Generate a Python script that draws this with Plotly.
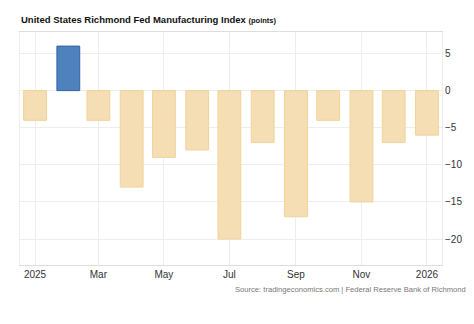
import plotly.graph_objects as go

months = ["2025-01-01", "2025-02-01", "2025-03-01", "2025-04-01", "2025-05-01", "2025-06-01",
          "2025-07-01", "2025-08-01", "2025-09-01", "2025-10-01", "2025-11-01", "2025-12-01",
          "2026-01-01"]
values = [-4, 6, -4, -13, -9, -8, -20, -7, -17, -4, -15, -7, -6]
tick_dates = ["2025-01-01", "2025-03-01", "2025-05-01", "2025-07-01", "2025-09-01", "2025-11-01", "2026-01-01"]
tick_labels = ["2025", "Mar", "May", "Jul", "Sep", "Nov", "2026"]
y_ticks = [5, 0, -5, -10, -15, -20]

fill = ["#4f81bd" if v > 0 else "#f5deb3" for v in values]
line = ["#2f62a8" if v > 0 else "#f0d39a" for v in values]

fig = go.Figure(go.Bar(
    x=months, y=values,
    marker=dict(color=fill, line=dict(color=line, width=1)),
    width=[23 * 86400000 / 1.082] * len(values),
))

fig.update_layout(
    width=474, height=324,
    margin=dict(l=20, r=29, t=32, b=59),
    paper_bgcolor="white", plot_bgcolor="white",
    font=dict(family="Liberation Sans, Arial, sans-serif", color="#333333", size=10),
    showlegend=False,
    annotations=[
        dict(text="<b>United States Richmond Fed Manufacturing Index</b> <span style='font-size:7.5px'><b>(points)</b></span>",
             xref="paper", yref="paper", x=0, y=1.0, xanchor="left", yanchor="bottom",
             yshift=5, xshift=-1, showarrow=False, font=dict(size=9.5, color="#111111")),
        dict(text="Source: tradingeconomics.com | Federal Reserve Bank of Richmond",
             xref="paper", yref="paper", x=1.05, y=0, xanchor="right", yanchor="top",
             yshift=-18, xshift=5, showarrow=False, font=dict(size=7.6, color="#777777")),
    ],
)
fig.update_xaxes(
    type="date", range=["2024-12-18", "2026-01-15"],
    tickvals=tick_dates, ticktext=tick_labels, tickangle=0,
    showgrid=True, gridcolor="#eeeeee", gridwidth=1,
    showline=True, linecolor="#dddddd", mirror=True,
    ticks="", tickfont=dict(size=10, color="#333333"),
)
fig.update_yaxes(
    side="right", range=[-23.5, 7.9], tickvals=y_ticks,
    showgrid=True, gridcolor="#eeeeee", zeroline=False,
    showline=True, linecolor="#eeeeee", mirror=True,
    ticks="", tickfont=dict(size=10, color="#333333"),
)

fig.write_html("out.html")
